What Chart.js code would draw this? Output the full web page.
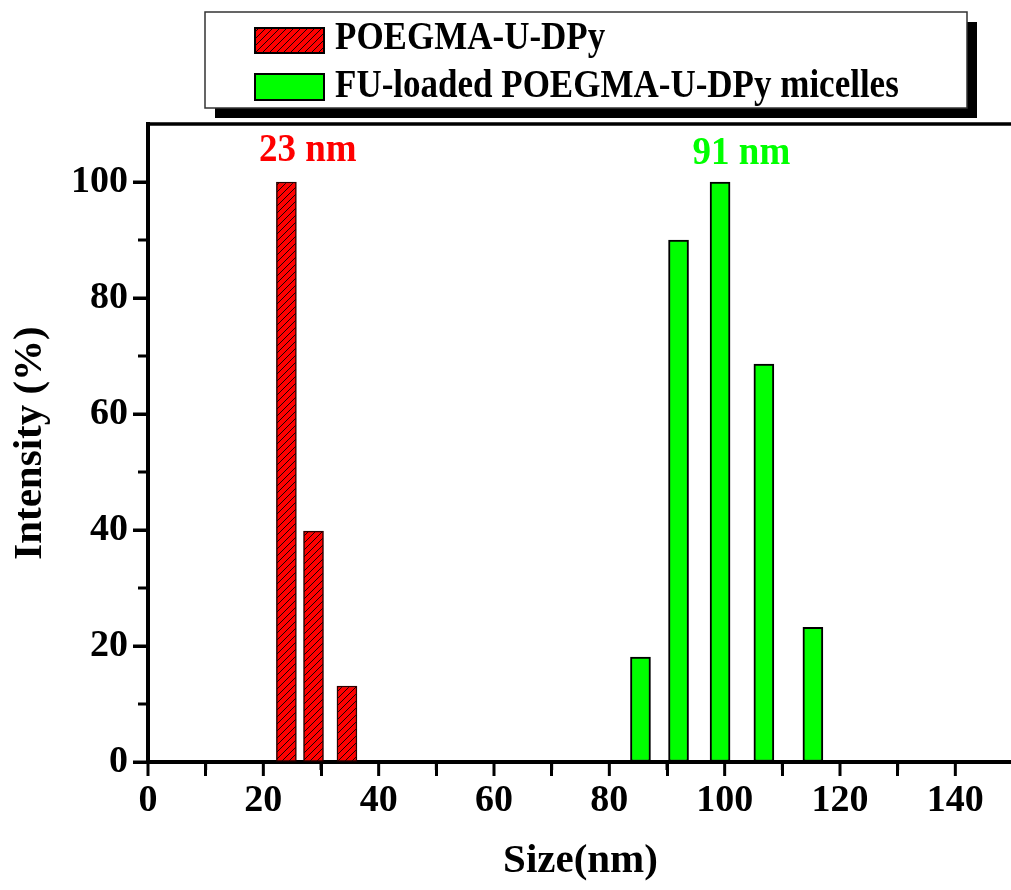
<!DOCTYPE html>
<html>
<head>
<meta charset="utf-8">
<script src="https://cdn.jsdelivr.net/npm/chart.js@4"></script>
<style>
  html, body { margin: 0; padding: 0; background: #fff; overflow: hidden; }
  #wrap { width: 1030px; height: 890px; }
</style>
</head>
<body>
<div id="wrap"><canvas id="chart" width="1030" height="890"></canvas></div>
<script>
// size bins (nm) and intensity (%)
const redSizes = [24.0, 28.7, 34.5];
const redIntensity = [100, 39.8, 13.1];
const greenSizes = [85.4, 92.0, 99.2, 106.8, 115.3];
const greenIntensity = [18.1, 90.0, 100, 68.6, 23.2];

const seriesLabels = ["POEGMA-U-DPy", "FU-loaded POEGMA-U-DPy micelles"];
const peakLabels = ["23 nm", "91 nm"];
const peakX = [27.7, 102.9];
const peakY = [105.5, 105.0];

const xMinorTicks = [10, 30, 50, 70, 90, 110, 130, 150];
const yMinorTicks = [10, 30, 50, 70, 90];

const FONT = "'Liberation Serif', 'Times New Roman', serif";
const RED = "#ff0000";
const GREEN = "#00ff00";

function hatch() {
  const c = document.createElement("canvas");
  c.width = 7; c.height = 7;
  const g = c.getContext("2d");
  g.fillStyle = RED;
  g.fillRect(0, 0, 7, 7);
  g.strokeStyle = "#000";
  g.lineWidth = 0.9;
  g.beginPath();
  g.moveTo(-1, 8); g.lineTo(8, -1);
  g.moveTo(-4.5, 4.5); g.lineTo(4.5, -4.5);
  g.moveTo(2.5, 11.5); g.lineTo(11.5, 2.5);
  g.stroke();
  return g.createPattern(c, "repeat");
}
const redPattern = hatch();

// text stretched a little taller, as in the original figure
function tallText(ctx, txt, x, y, sy) {
  ctx.save();
  ctx.translate(x, y);
  ctx.scale(1, sy);
  ctx.fillText(txt, 0, 0);
  ctx.restore();
}

const extras = {
  id: "extras",
  afterDraw(chart) {
    const ctx = chart.ctx;
    const a = chart.chartArea;
    const xs = chart.scales.x, ys = chart.scales.y;
    ctx.save();
    // top frame
    ctx.strokeStyle = "#000";
    ctx.lineWidth = 3.5;
    ctx.beginPath();
    ctx.moveTo(a.left - 1.5, a.top);
    ctx.lineTo(a.right + 2, a.top);
    ctx.stroke();
    // major + minor ticks
    ctx.lineWidth = 3;
    ctx.beginPath();
    xs.ticks.forEach(t => {
      const px = xs.getPixelForValue(t.value);
      ctx.moveTo(px, a.bottom); ctx.lineTo(px, a.bottom + 14);
    });
    ys.ticks.forEach(t => {
      const py = ys.getPixelForValue(t.value);
      ctx.moveTo(a.left, py); ctx.lineTo(a.left - 15, py);
    });
    xMinorTicks.forEach(v => {
      const px = xs.getPixelForValue(v);
      ctx.moveTo(px, a.bottom); ctx.lineTo(px, a.bottom + 8);
    });
    yMinorTicks.forEach(v => {
      const py = ys.getPixelForValue(v);
      ctx.moveTo(a.left, py); ctx.lineTo(a.left - 10, py);
    });
    ctx.stroke();

    // peak labels
    ctx.font = "bold 37px " + FONT;
    ctx.textAlign = "center";
    ctx.textBaseline = "middle";
    [RED, GREEN].forEach((col, i) => {
      ctx.fillStyle = col;
      tallText(ctx, peakLabels[i], xs.getPixelForValue(peakX[i]), ys.getPixelForValue(peakY[i]), 1.1);
    });

    // legend box with shadow
    ctx.fillStyle = "#000";
    ctx.fillRect(215, 22, 762, 96);
    ctx.fillStyle = "#fff";
    ctx.fillRect(205, 12, 762, 96);
    ctx.strokeStyle = "#333";
    ctx.lineWidth = 1.5;
    ctx.strokeRect(205, 12, 762, 96);

    const ds = chart.data.datasets;
    const rows = [{ y: 28, h: 25, t: 39 }, { y: 74, h: 26, t: 87 }];
    rows.forEach((r, i) => {
      ctx.fillStyle = ds[i].backgroundColor;
      ctx.fillRect(255, r.y, 69, r.h);
      ctx.strokeStyle = "#000";
      ctx.lineWidth = 2;
      ctx.strokeRect(255, r.y, 69, r.h);
      ctx.fillStyle = "#000";
      ctx.font = "bold 35px " + FONT;
      ctx.textAlign = "left";
      ctx.textBaseline = "middle";
      tallText(ctx, ds[i].label, 335, r.t, 1.12);
    });
    ctx.restore();
  }
};

new Chart(document.getElementById("chart"), {
  type: "bar",
  data: {
    datasets: [
      {
        label: seriesLabels[0],
        data: redSizes.map((x, i) => ({ x: x, y: redIntensity[i] })),
        backgroundColor: redPattern,
        borderColor: "#2a0000",
        borderWidth: 1.5,
        borderSkipped: false,
        barThickness: 20,
        grouped: false
      },
      {
        label: seriesLabels[1],
        data: greenSizes.map((x, i) => ({ x: x, y: greenIntensity[i] })),
        backgroundColor: GREEN,
        borderColor: "#000",
        borderWidth: 2,
        borderSkipped: false,
        barThickness: 20,
        grouped: false
      }
    ]
  },
  options: {
    responsive: false,
    devicePixelRatio: 1,
    animation: false,
    layout: { padding: { left: 0, top: 124, right: 17, bottom: 0 } },
    plugins: { legend: { display: false }, tooltip: { enabled: false } },
    scales: {
      x: {
        type: "linear",
        min: 0,
        max: 150,
        offset: false,
        afterFit: s => { s.height = 128; },
        border: { display: true, color: "#000", width: 4 },
        grid: { drawOnChartArea: false, drawTicks: true, tickLength: 14, tickWidth: 3, tickColor: "#000" },
        ticks: {
          stepSize: 20,
          includeBounds: false,
          maxRotation: 0,
          padding: 2,
          color: "#000",
          font: { family: FONT, size: 38, weight: "bold" }
        },
        title: {
          display: true,
          text: "Size(nm)",
          color: "#000",
          padding: { top: 0, bottom: 4 },
          font: { family: FONT, size: 41, weight: "bold" }
        }
      },
      y: {
        min: 0,
        max: 110,
        afterFit: s => { s.width = 148; },
        border: { display: true, color: "#000", width: 4 },
        grid: { drawOnChartArea: false, drawTicks: true, tickLength: 15, tickWidth: 3, tickColor: "#000" },
        ticks: {
          stepSize: 20,
          includeBounds: false,
          padding: 5,
          color: "#000",
          font: { family: FONT, size: 38, weight: "bold" }
        },
        title: {
          display: true,
          text: "Intensity (%)",
          color: "#000",
          padding: { top: 6, bottom: 0 },
          font: { family: FONT, size: 41, weight: "bold" }
        }
      }
    }
  },
  plugins: [extras]
});
</script>
</body>
</html>
